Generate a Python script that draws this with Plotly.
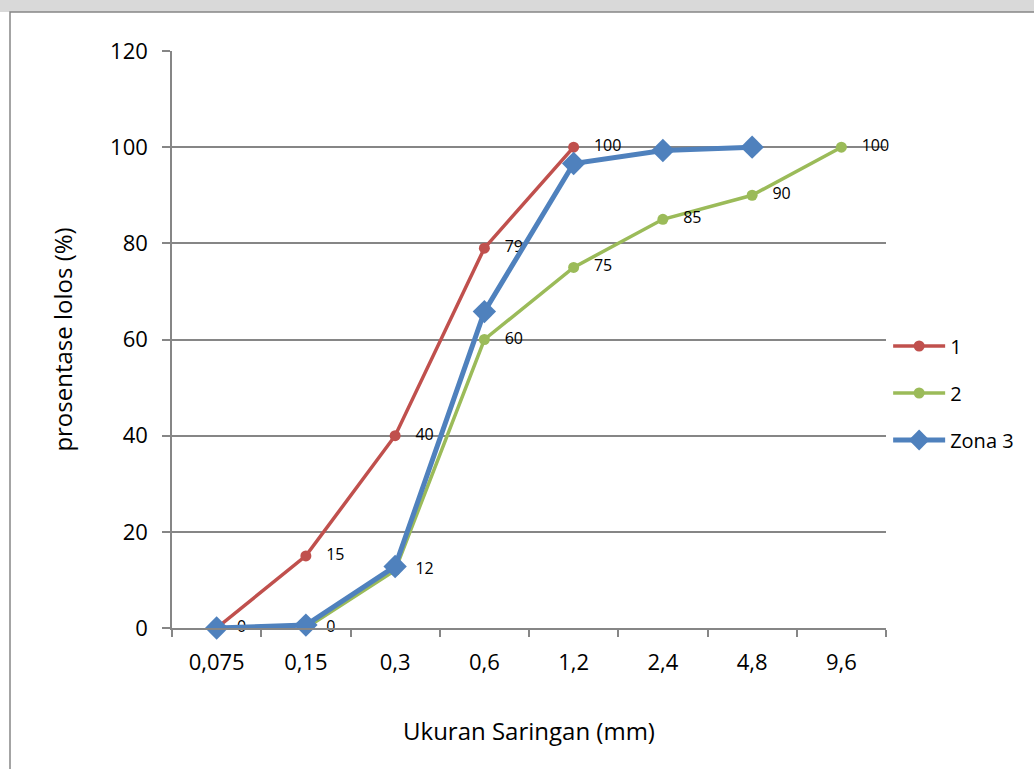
import plotly.graph_objects as go

categories = ["0,075", "0,15", "0,3", "0,6", "1,2", "2,4", "4,8", "9,6"]
series_1 = [0, 15, 40, 79, 100, None, None, None]
series_2 = [None, 0, 12, 60, 75, 85, 90, 100]
zona_3 = [0, 0.6, 12.8, 65.8, 96.6, 99.3, 100, None]
y_ticks = [0, 20, 40, 60, 80, 100, 120]

FONT = "Open Sans"
PAD = "\u00a0\u00a0\u00a0"

def labels(vals):
    return [("" if v is None else PAD + str(v)) for v in vals]

fig = go.Figure()
fig.add_trace(go.Scatter(
    x=categories, y=series_1, name="1", mode="lines+markers+text",
    line=dict(color="#C0504D", width=3.5), marker=dict(symbol="circle", size=11, color="#C0504D"),
    text=labels(series_1), textposition="middle right",
    textfont=dict(family=FONT, size=16, color="#000000"),
    legendgroup="a", connectgaps=False, cliponaxis=False,
))
fig.add_trace(go.Scatter(
    x=categories, y=series_2, name="2", mode="lines+markers+text",
    line=dict(color="#9BBB59", width=3.5), marker=dict(symbol="circle", size=11, color="#9BBB59"),
    text=labels(series_2), textposition="middle right",
    textfont=dict(family=FONT, size=16, color="#000000"),
    legendgroup="b", connectgaps=False, cliponaxis=False,
))
fig.add_trace(go.Scatter(
    x=categories, y=zona_3, name="Zona 3", mode="lines+markers",
    line=dict(color="#4F81BD", width=5), marker=dict(symbol="diamond", size=18, color="#4F81BD"),
    legendgroup="c", connectgaps=False, cliponaxis=False,
))

fig.update_layout(
    width=1034, height=769,
    margin=dict(l=172, r=148, t=51, b=141, autoexpand=False),
    paper_bgcolor="white", plot_bgcolor="white",
    font=dict(family=FONT, size=18, color="#000000"),
    showlegend=True,
    legend=dict(x=1.003, y=(628 - 393) / 577, xanchor="left", yanchor="middle",
                font=dict(family=FONT, size=20), tracegroupgap=18,
                traceorder="grouped", itemwidth=52, bgcolor="rgba(0,0,0,0)"),
    xaxis=dict(
        type="category", categoryorder="array", categoryarray=categories,
        showgrid=False, showline=True, linecolor="#868686", linewidth=1.5,
        ticks="outside", tickson="boundaries", ticklen=7, tickcolor="#868686", tickwidth=1.5,
        tickfont=dict(family=FONT, size=22), range=[-0.5, 7.5], ticklabelstandoff=14,
        automargin=False,
        title=dict(text="Ukuran Saringan (mm)", font=dict(family=FONT, size=24), standoff=48),
    ),
    yaxis=dict(
        range=[0, 120], tickvals=y_ticks, showgrid=True, gridcolor="#868686", gridwidth=1.5,
        showline=True, linecolor="#868686", linewidth=1.5, zeroline=False,
        ticks="outside", ticklen=8, tickcolor="#868686", tickwidth=1.5,
        tickfont=dict(family=FONT, size=22), ticklabelstandoff=10, automargin=False,
        title=dict(text="prosentase lolos (%)", font=dict(family=FONT, size=24), standoff=31),
    ),
    shapes=[
        dict(type="rect", xref="paper", yref="paper", x0=-0.26, x1=1.3,
             y0=(628 - 12) / 577, y1=1.2, fillcolor="#D9D9D9", line=dict(width=0), layer="below"),
        dict(type="rect", xref="paper", yref="paper", x0=(10 - 172) / 714, x1=1.3,
             y0=-0.3, y1=(628 - 12) / 577, fillcolor="rgba(0,0,0,0)",
             line=dict(color="#868686", width=1.5), layer="below"),
    ],
)

fig.write_html("out.html")
